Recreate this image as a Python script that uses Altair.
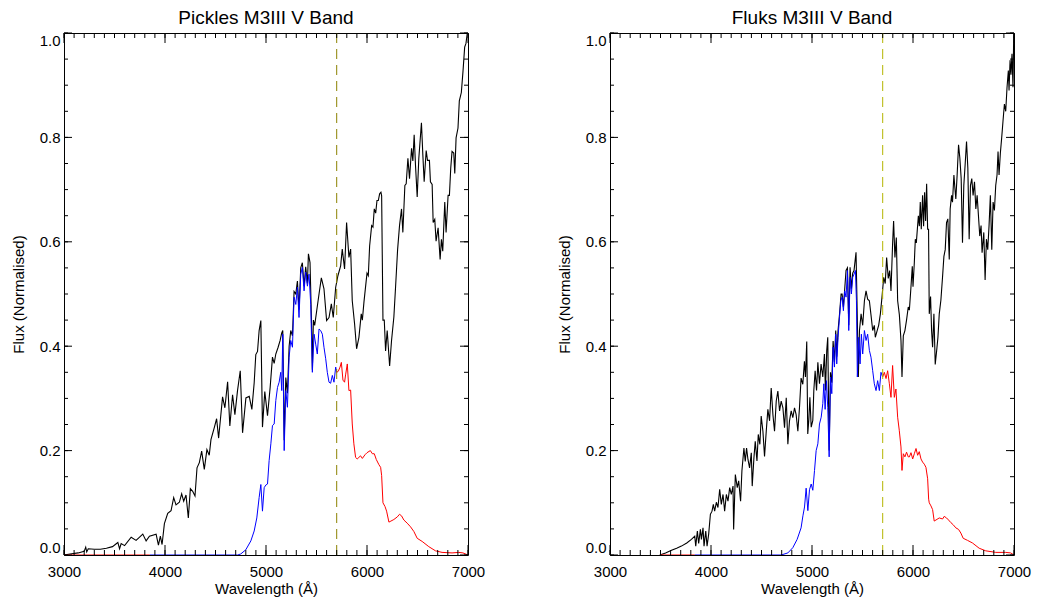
import altair as alt
import pandas as pd

# ---------------- data ----------------
PICKLES_BLACK = [
    (3000, 0.000), (3060, 0.002), (3140, 0.004), (3200, 0.007), (3215, 0.015), (3225, 0.006),
    (3240, 0.012), (3300, 0.011), (3360, 0.011), (3420, 0.013), (3480, 0.016), (3533, 0.024),
    (3550, 0.012), (3566, 0.022), (3600, 0.018), (3665, 0.034), (3714, 0.028), (3780, 0.040),
    (3813, 0.027), (3846, 0.036), (3912, 0.040), (3935, 0.019), (3954, 0.036), (3971, 0.020),
    (3994, 0.060), (4027, 0.080), (4060, 0.085), (4086, 0.110), (4109, 0.096), (4142, 0.101),
    (4165, 0.117), (4185, 0.103), (4208, 0.115), (4231, 0.071), (4251, 0.127), (4274, 0.122),
    (4297, 0.113), (4317, 0.167), (4340, 0.177), (4363, 0.199), (4389, 0.164), (4415, 0.202),
    (4438, 0.191), (4455, 0.221), (4488, 0.244), (4511, 0.261), (4531, 0.224), (4570, 0.303),
    (4593, 0.282), (4620, 0.332), (4642, 0.247), (4669, 0.307), (4692, 0.269), (4718, 0.315),
    (4745, 0.353), (4768, 0.234), (4801, 0.301), (4834, 0.304), (4860, 0.279), (4883, 0.330),
    (4899, 0.384), (4916, 0.390), (4932, 0.430), (4949, 0.449), (4965, 0.245), (4988, 0.313),
    (5015, 0.267), (5041, 0.321), (5064, 0.379), (5081, 0.367), (5097, 0.385), (5120, 0.398),
    (5140, 0.411), (5155, 0.425), (5166, 0.430), (5180, 0.220), (5196, 0.340), (5212, 0.310),
    (5229, 0.400), (5245, 0.430), (5262, 0.420), (5278, 0.505), (5295, 0.500), (5311, 0.525),
    (5327, 0.470), (5344, 0.550), (5360, 0.560), (5377, 0.515), (5393, 0.552), (5410, 0.520),
    (5420, 0.577), (5436, 0.560), (5450, 0.450), (5459, 0.355), (5469, 0.450), (5482, 0.440),
    (5502, 0.468), (5525, 0.500), (5548, 0.531), (5574, 0.510), (5600, 0.449), (5624, 0.455),
    (5647, 0.481), (5666, 0.455), (5690, 0.513), (5712, 0.535), (5739, 0.554), (5755, 0.586),
    (5778, 0.548), (5798, 0.637), (5821, 0.570), (5838, 0.586), (5854, 0.487), (5877, 0.443),
    (5897, 0.395), (5920, 0.417), (5943, 0.462), (5954, 0.450), (5970, 0.485), (6000, 0.540),
    (6013, 0.535), (6026, 0.592), (6046, 0.631), (6059, 0.628), (6072, 0.663), (6086, 0.655),
    (6099, 0.679), (6112, 0.679), (6125, 0.692), (6138, 0.695), (6145, 0.688), (6158, 0.450),
    (6171, 0.450), (6184, 0.391), (6200, 0.430), (6224, 0.362), (6243, 0.411), (6266, 0.456),
    (6283, 0.514), (6303, 0.585), (6322, 0.631), (6342, 0.663), (6355, 0.618), (6375, 0.708),
    (6388, 0.711), (6405, 0.760), (6421, 0.721), (6441, 0.779), (6454, 0.755), (6467, 0.805),
    (6480, 0.747), (6497, 0.686), (6513, 0.760), (6539, 0.828), (6553, 0.766), (6566, 0.715),
    (6586, 0.775), (6599, 0.756), (6618, 0.756), (6628, 0.715), (6645, 0.710), (6655, 0.637),
    (6671, 0.643), (6684, 0.601), (6704, 0.627), (6724, 0.566), (6737, 0.605), (6750, 0.582),
    (6770, 0.676), (6783, 0.618), (6803, 0.689), (6816, 0.689), (6829, 0.741), (6842, 0.773),
    (6859, 0.770), (6869, 0.731), (6882, 0.799), (6901, 0.818), (6914, 0.870), (6934, 0.886),
    (6951, 0.928), (6967, 0.973), (6980, 0.980), (6993, 1.000), (7000, 1.000),
]
PICKLES_BLUE = [
    (3850, 0.0), (4720, 0.0), (4750, 0.002), (4800, 0.010), (4850, 0.027), (4883, 0.046),
    (4909, 0.071), (4932, 0.110), (4949, 0.135), (4965, 0.084), (4982, 0.129), (4998, 0.134),
    (5015, 0.136), (5031, 0.181), (5048, 0.213), (5064, 0.248), (5081, 0.251), (5097, 0.296),
    (5114, 0.321), (5130, 0.331), (5146, 0.350), (5156, 0.315), (5166, 0.423), (5180, 0.200),
    (5196, 0.315), (5212, 0.283), (5229, 0.379), (5245, 0.411), (5262, 0.398), (5278, 0.494),
    (5295, 0.480), (5311, 0.513), (5327, 0.455), (5344, 0.538), (5360, 0.551), (5377, 0.506),
    (5393, 0.542), (5410, 0.515), (5426, 0.538), (5443, 0.480), (5459, 0.350), (5476, 0.423),
    (5492, 0.404), (5508, 0.385), (5525, 0.433), (5541, 0.430), (5558, 0.423), (5574, 0.398),
    (5591, 0.376), (5607, 0.350), (5624, 0.331), (5640, 0.329), (5657, 0.344), (5673, 0.331),
    (5690, 0.360), (5700, 0.350),
]
PICKLES_RED = [
    (5700, 0.350), (5716, 0.352), (5733, 0.360), (5746, 0.369), (5762, 0.335), (5778, 0.331),
    (5788, 0.345), (5805, 0.366), (5821, 0.315), (5838, 0.316), (5854, 0.251), (5870, 0.213),
    (5887, 0.187), (5903, 0.184), (5920, 0.187), (5936, 0.190), (5954, 0.185), (5980, 0.192),
    (6000, 0.196), (6033, 0.200), (6053, 0.194), (6072, 0.194), (6092, 0.183), (6118, 0.173),
    (6135, 0.168), (6145, 0.152), (6158, 0.100), (6178, 0.093), (6194, 0.084), (6217, 0.063),
    (6237, 0.065), (6266, 0.068), (6300, 0.073), (6322, 0.078), (6342, 0.075), (6365, 0.067),
    (6398, 0.061), (6431, 0.054), (6464, 0.045), (6497, 0.032), (6546, 0.026), (6612, 0.016),
    (6678, 0.008), (6743, 0.005), (6842, 0.004), (6908, 0.005), (6950, 0.004), (7000, 0.0),
]
PICKLES_RED_ZERO = [(3000, 0.0), (3850, 0.0)]

FLUKS_BLACK = [
    (3493, 0.000), (3550, 0.004), (3609, 0.009), (3660, 0.013), (3707, 0.017), (3760, 0.023),
    (3806, 0.030), (3839, 0.036), (3849, 0.017), (3865, 0.046), (3878, 0.022), (3895, 0.049),
    (3905, 0.030), (3921, 0.052), (3931, 0.017), (3948, 0.046), (3961, 0.017), (3977, 0.040),
    (3994, 0.078), (4010, 0.084), (4023, 0.097), (4036, 0.084), (4053, 0.101), (4069, 0.091),
    (4086, 0.126), (4102, 0.097), (4119, 0.116), (4135, 0.084), (4152, 0.116), (4168, 0.103),
    (4185, 0.129), (4201, 0.116), (4218, 0.132), (4224, 0.049), (4241, 0.154), (4260, 0.129),
    (4274, 0.142), (4293, 0.103), (4306, 0.161), (4326, 0.205), (4339, 0.179), (4352, 0.205),
    (4366, 0.183), (4382, 0.167), (4399, 0.196), (4408, 0.132), (4425, 0.186), (4438, 0.218),
    (4455, 0.180), (4468, 0.231), (4484, 0.212), (4497, 0.266), (4514, 0.237), (4530, 0.189),
    (4547, 0.237), (4563, 0.279), (4580, 0.257), (4596, 0.320), (4613, 0.269), (4629, 0.237),
    (4646, 0.295), (4662, 0.314), (4679, 0.276), (4695, 0.295), (4712, 0.282), (4728, 0.244),
    (4745, 0.301), (4761, 0.212), (4777, 0.257), (4794, 0.276), (4810, 0.263), (4827, 0.282),
    (4843, 0.269), (4860, 0.237), (4876, 0.282), (4892, 0.339), (4909, 0.327), (4925, 0.371),
    (4935, 0.341), (4948, 0.409), (4958, 0.232), (4969, 0.260), (4979, 0.302), (4992, 0.245),
    (5008, 0.258), (5018, 0.315), (5031, 0.353), (5045, 0.315), (5058, 0.369), (5074, 0.328),
    (5090, 0.366), (5107, 0.341), (5123, 0.385), (5133, 0.315), (5146, 0.392), (5156, 0.417),
    (5170, 0.200), (5183, 0.350), (5196, 0.330), (5209, 0.410), (5222, 0.370), (5235, 0.430),
    (5245, 0.380), (5258, 0.430), (5272, 0.460), (5288, 0.500), (5298, 0.500), (5311, 0.475),
    (5324, 0.510), (5337, 0.545), (5351, 0.550), (5364, 0.440), (5377, 0.551), (5390, 0.510),
    (5403, 0.540), (5416, 0.545), (5436, 0.580), (5445, 0.490), (5459, 0.341), (5470, 0.430),
    (5486, 0.462), (5502, 0.440), (5519, 0.487), (5535, 0.506), (5551, 0.490), (5568, 0.487),
    (5584, 0.460), (5601, 0.430), (5617, 0.440), (5627, 0.417), (5645, 0.430), (5660, 0.440),
    (5677, 0.462), (5693, 0.494), (5710, 0.532), (5725, 0.520), (5739, 0.570), (5755, 0.530),
    (5769, 0.545), (5782, 0.506), (5798, 0.596), (5808, 0.640), (5821, 0.570), (5835, 0.608),
    (5848, 0.487), (5865, 0.460), (5881, 0.411), (5891, 0.341), (5904, 0.420), (5920, 0.430),
    (5936, 0.450), (5953, 0.475), (5964, 0.469), (5978, 0.508), (5993, 0.553), (6000, 0.514),
    (6013, 0.560), (6023, 0.605), (6033, 0.598), (6053, 0.650), (6063, 0.630), (6072, 0.676),
    (6082, 0.624), (6095, 0.689), (6105, 0.630), (6115, 0.695), (6125, 0.640), (6135, 0.711),
    (6145, 0.624), (6154, 0.624), (6161, 0.462), (6174, 0.495), (6184, 0.430), (6194, 0.398),
    (6207, 0.462), (6220, 0.365), (6234, 0.391), (6247, 0.417), (6260, 0.462), (6276, 0.488),
    (6293, 0.534), (6306, 0.572), (6319, 0.585), (6332, 0.637), (6345, 0.644), (6359, 0.566),
    (6368, 0.663), (6382, 0.689), (6391, 0.676), (6405, 0.728), (6414, 0.705), (6424, 0.682),
    (6437, 0.728), (6451, 0.786), (6464, 0.760), (6477, 0.721), (6490, 0.598), (6503, 0.708),
    (6516, 0.747), (6530, 0.792), (6543, 0.741), (6556, 0.605), (6569, 0.708), (6582, 0.721),
    (6595, 0.689), (6609, 0.715), (6622, 0.663), (6635, 0.689), (6648, 0.650), (6661, 0.611),
    (6674, 0.631), (6684, 0.579), (6701, 0.618), (6714, 0.527), (6727, 0.605), (6740, 0.585),
    (6753, 0.631), (6766, 0.689), (6780, 0.585), (6793, 0.676), (6806, 0.660), (6819, 0.708),
    (6832, 0.728), (6842, 0.773), (6852, 0.728), (6865, 0.770), (6878, 0.799), (6891, 0.831),
    (6905, 0.864), (6918, 0.850), (6931, 0.896), (6944, 0.928), (6951, 0.890), (6961, 0.948),
    (6970, 0.920), (6980, 0.960), (6990, 0.896), (6997, 0.993), (7000, 1.000),
]
FLUKS_BLUE = [
    (3839, 0.0), (4695, 0.0), (4761, 0.004), (4810, 0.014), (4853, 0.030), (4892, 0.052),
    (4910, 0.075), (4926, 0.092), (4942, 0.128), (4959, 0.085), (4975, 0.125), (4992, 0.136),
    (5008, 0.124), (5025, 0.162), (5041, 0.200), (5058, 0.213), (5074, 0.251), (5091, 0.264),
    (5107, 0.290), (5117, 0.328), (5130, 0.279), (5143, 0.334), (5156, 0.282), (5170, 0.188),
    (5183, 0.341), (5196, 0.309), (5209, 0.398), (5222, 0.360), (5235, 0.423), (5245, 0.366),
    (5258, 0.417), (5272, 0.455), (5285, 0.487), (5298, 0.494), (5311, 0.468), (5324, 0.506),
    (5337, 0.494), (5351, 0.545), (5364, 0.430), (5377, 0.532), (5390, 0.500), (5403, 0.532),
    (5416, 0.538), (5430, 0.545), (5440, 0.487), (5449, 0.341), (5463, 0.417), (5476, 0.366),
    (5489, 0.423), (5502, 0.385), (5519, 0.430), (5535, 0.411), (5551, 0.423), (5568, 0.392),
    (5584, 0.379), (5601, 0.353), (5617, 0.328), (5634, 0.315), (5650, 0.334), (5667, 0.315),
    (5683, 0.350), (5700, 0.341),
]
FLUKS_RED = [
    (5700, 0.341), (5716, 0.350), (5733, 0.338), (5749, 0.353), (5766, 0.328), (5782, 0.302),
    (5798, 0.363), (5815, 0.302), (5831, 0.318), (5848, 0.264), (5864, 0.239), (5881, 0.207),
    (5891, 0.162), (5904, 0.194), (5920, 0.188), (5936, 0.197), (5953, 0.188), (5964, 0.188),
    (5980, 0.196), (5997, 0.184), (6013, 0.194), (6030, 0.204), (6046, 0.191), (6062, 0.198),
    (6079, 0.184), (6095, 0.178), (6112, 0.174), (6128, 0.168), (6145, 0.146), (6155, 0.107),
    (6161, 0.100), (6178, 0.094), (6194, 0.087), (6210, 0.065), (6227, 0.067), (6260, 0.071),
    (6293, 0.069), (6309, 0.074), (6332, 0.071), (6352, 0.067), (6375, 0.062), (6398, 0.058),
    (6424, 0.052), (6451, 0.049), (6474, 0.042), (6497, 0.032), (6540, 0.028), (6589, 0.023),
    (6655, 0.013), (6720, 0.008), (6819, 0.005), (6918, 0.005), (6967, 0.004), (7000, 0.0),
]
FLUKS_RED_ZERO = [(3494, 0.0), (3839, 0.0)]

TITLES = ["Pickles M3III V Band", "Fluks M3III V Band"]
DASH_COLORS = ["#8c8200", "#b4b400"]
V_CENTRE = [5700]

X_MAJOR = [3000, 4000, 5000, 6000, 7000]
X_MINOR = [3000 + 100 * i for i in range(41)]
Y_MAJOR = [0.0, 0.2, 0.4, 0.6, 0.8, 1.0]
Y_MINOR = [round(0.05 * i, 2) for i in range(21)]

# ---------------- styling ----------------
W, H = 404, 522
FONT = "Liberation Sans"
XS = alt.Scale(domain=[3000, 7000], nice=False, zero=False)
YS = alt.Scale(domain=[0, 1], nice=False, zero=False)

XAXIS = alt.Axis(values=X_MAJOR, format="d", ticks=False, tickSize=0, domain=False, grid=False,
                 labelFontSize=15, titleFontSize=15, labelFont=FONT, titleFont=FONT,
                 labelColor="black", titleColor="black", titleFontWeight="normal",
                 labelPadding=9, titlePadding=2, labelFlush=False, labelOverlap=False)
YAXIS = alt.Axis(values=Y_MAJOR, format=".1f", ticks=False, tickSize=0, domain=False, grid=False,
                 labelFontSize=15, titleFontSize=15, labelFont=FONT, titleFont=FONT,
                 labelColor="black", titleColor="black", titleFontWeight="normal",
                 labelPadding=4, titlePadding=13, labelFlush=True, labelOverlap=False)


def xenc():
    return alt.X("wl:Q", scale=XS, axis=XAXIS, title="Wavelength (Å)")


def yenc():
    return alt.Y("flux:Q", scale=YS, axis=YAXIS, title="Flux (Normalised)")


def line(pairs, color, width=1.0):
    df = pd.DataFrame(pairs, columns=["wl", "flux"])
    return alt.Chart(df).mark_line(color=color, strokeWidth=width, clip=True).encode(x=xenc(), y=yenc())


def xticks(values, length):
    df = pd.DataFrame({"wl": values})
    base = alt.Chart(df).mark_rule(color="black", strokeWidth=1)
    bottom = base.encode(x=xenc(), y=alt.value(H), y2=alt.value(H - length))
    top = base.encode(x=xenc(), y=alt.value(0), y2=alt.value(length))
    return bottom + top


def yticks(values, length):
    df = pd.DataFrame({"flux": values})
    base = alt.Chart(df).mark_rule(color="black", strokeWidth=1)
    left = base.encode(y=yenc(), x=alt.value(0), x2=alt.value(length))
    right = base.encode(y=yenc(), x=alt.value(W), x2=alt.value(W - length))
    return left + right


def panel(title, black, blue, red, red_zero, dash_color):
    dash = alt.Chart(pd.DataFrame({"wl": V_CENTRE})).mark_rule(
        color=dash_color, strokeWidth=1, strokeDash=[10, 6]
    ).encode(x=xenc(), y=alt.value(0), y2=alt.value(H))
    layers = alt.layer(
        line(black, "black", 1.1),
        line(red_zero, "#ff0000"),
        line(blue, "#0000ff"),
        line(red, "#ff0000"),
        dash,
        xticks(X_MINOR, 5), xticks(X_MAJOR, 10),
        yticks(Y_MINOR, 4), yticks(Y_MAJOR, 8),
    )
    return layers.properties(
        width=W, height=H,
        title=alt.TitleParams(text=title, fontSize=19, font=FONT, fontWeight="normal",
                              color="black", anchor="middle", offset=5),
    )


left = panel(TITLES[0], PICKLES_BLACK, PICKLES_BLUE, PICKLES_RED, PICKLES_RED_ZERO, DASH_COLORS[0])
right = panel(TITLES[1], FLUKS_BLACK, FLUKS_BLUE, FLUKS_RED, FLUKS_RED_ZERO, DASH_COLORS[1])

chart = alt.hconcat(left, right, spacing=70).properties(
    padding={"left": 2, "top": 0, "right": 0, "bottom": 0}
).configure_view(stroke="black", strokeWidth=1)

chart.save("out.html", embed_options={"renderer": "svg", "actions": False})
